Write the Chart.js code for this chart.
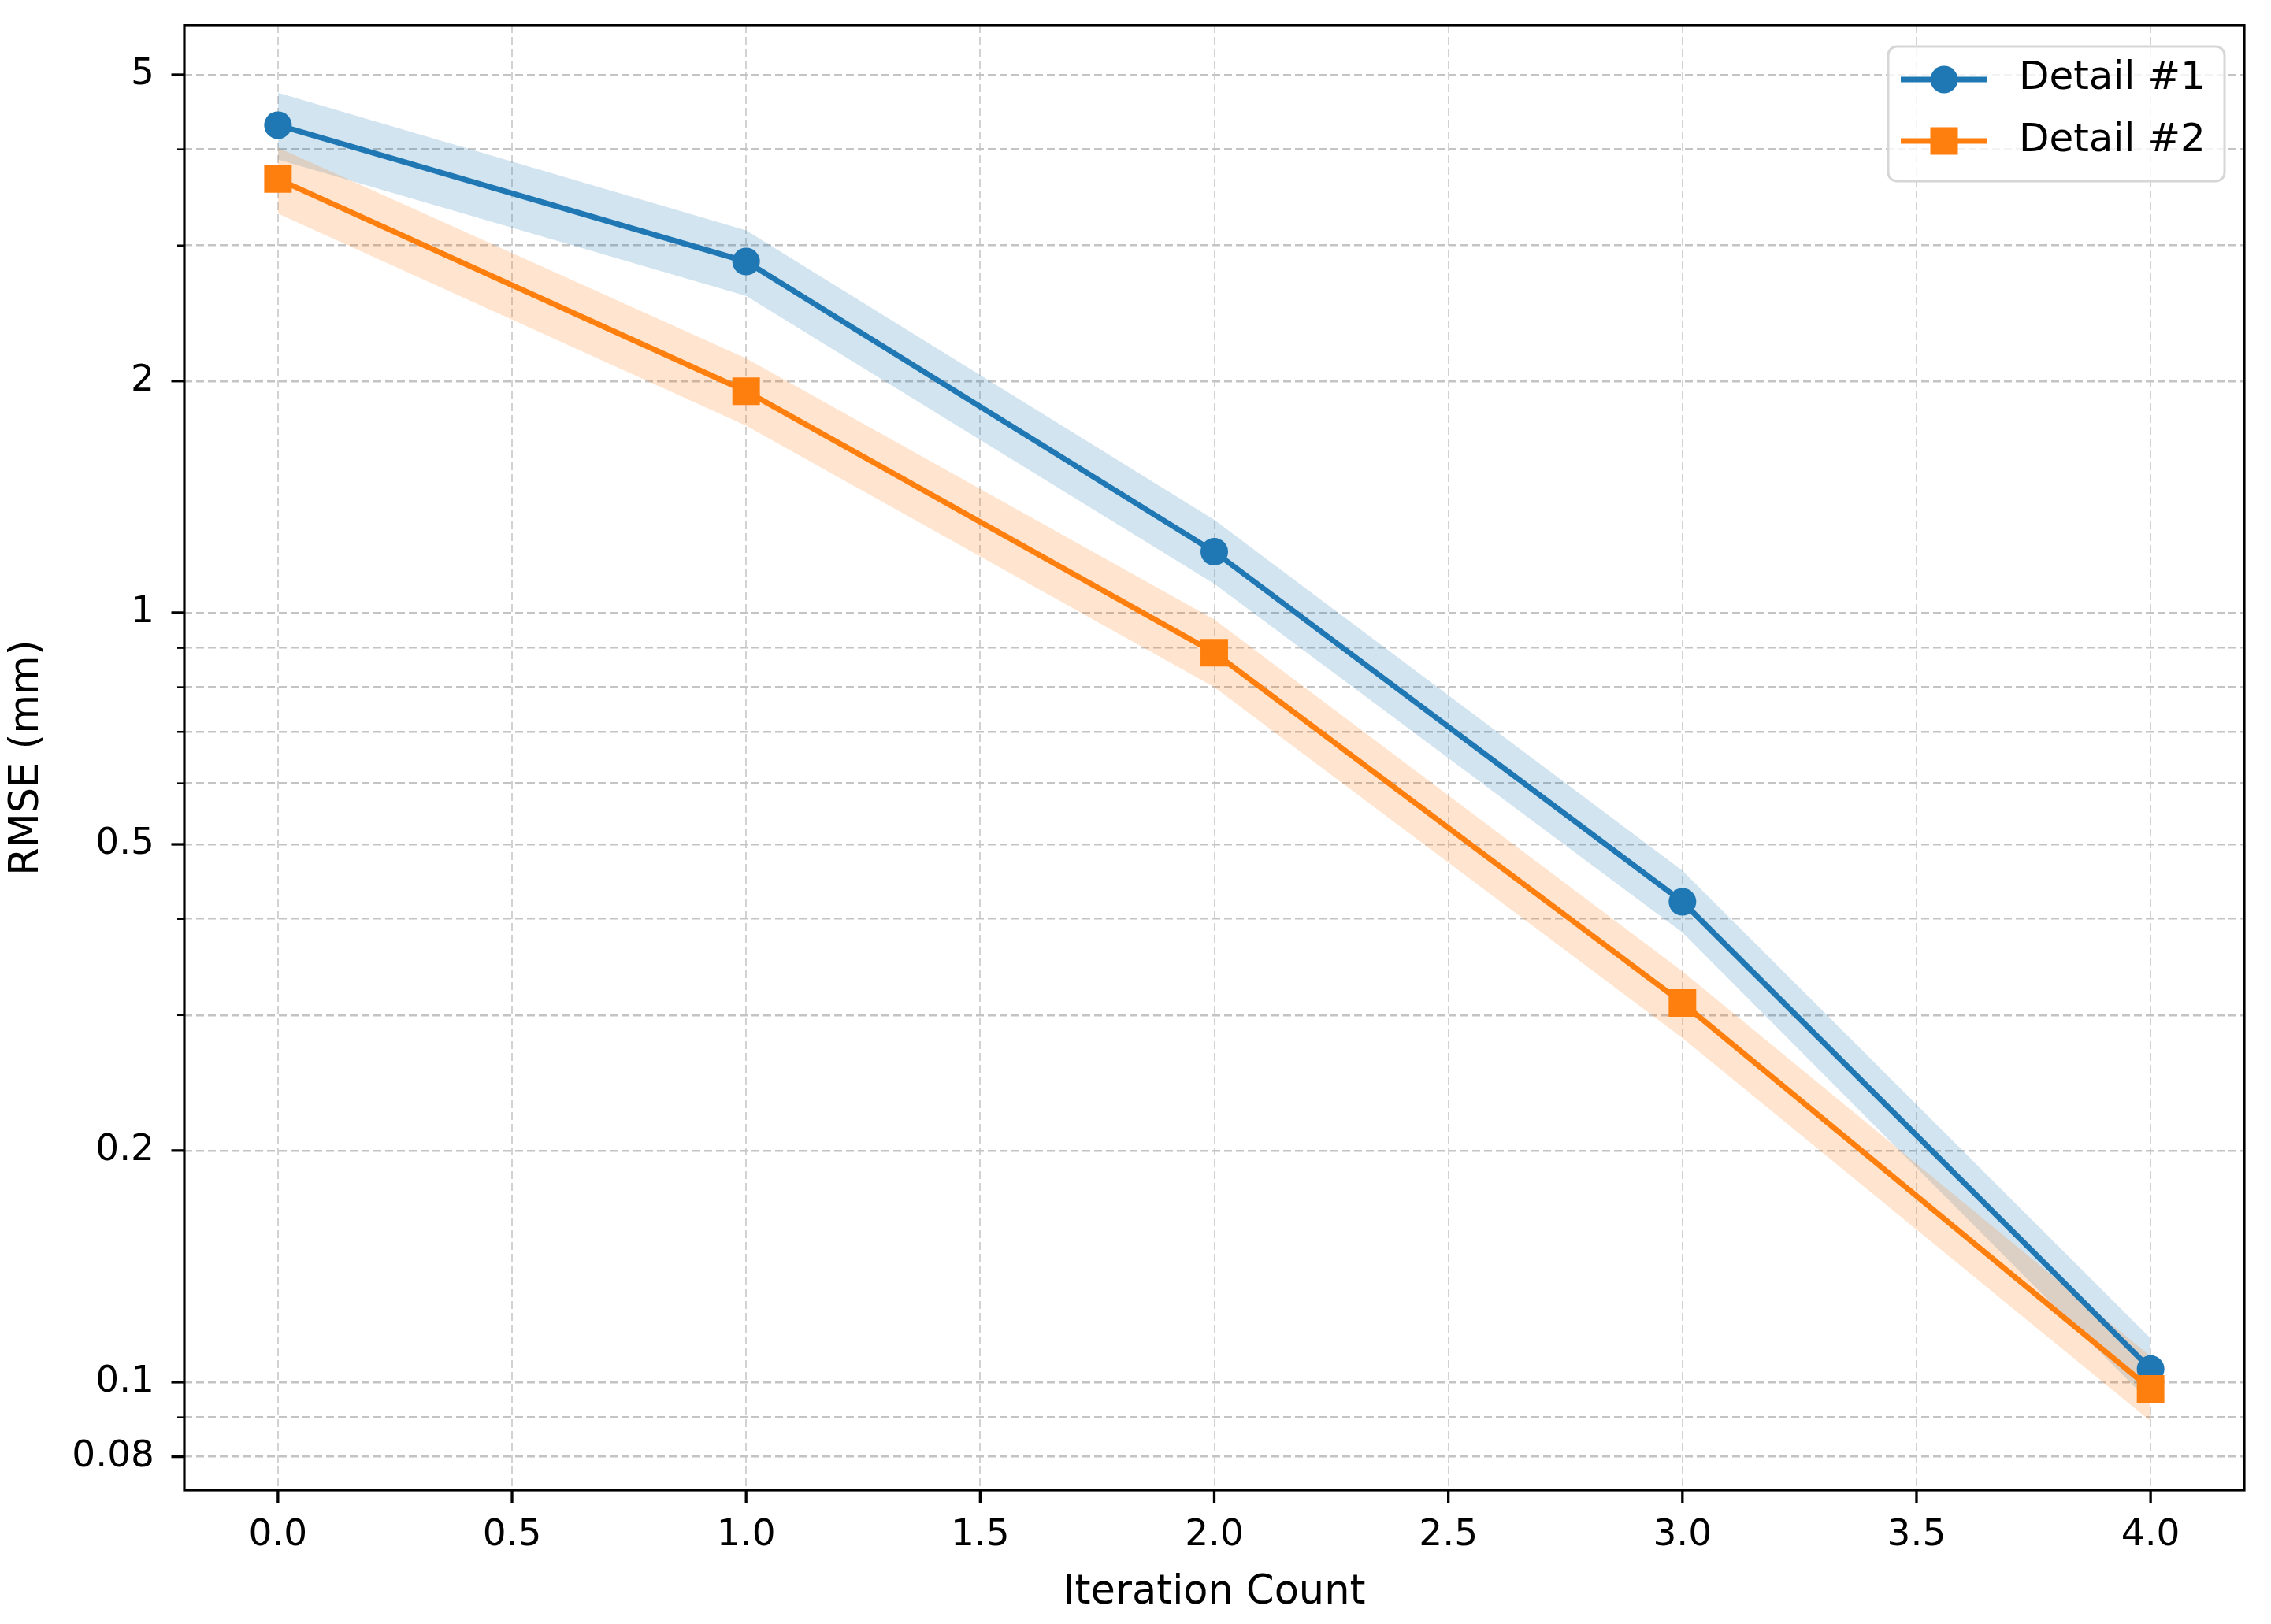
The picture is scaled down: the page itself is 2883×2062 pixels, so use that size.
<!DOCTYPE html>
<html>
<head>
<meta charset="utf-8">
<script src="https://cdn.jsdelivr.net/npm/chart.js@4.4.0/dist/chart.umd.min.js"></script>
<style>
html,body{margin:0;padding:0;background:#ffffff;}
canvas{display:block;}
</style>
</head>
<body>
<canvas id="c" width="2883" height="2062" style="width:2883px;height:2062px"></canvas>
<script>
// ---- data ----
const iterations = [0, 1, 2, 3, 4];
const detail1 = [4.30, 2.86, 1.20, 0.421, 0.104];
const detail1Upper = [4.74, 3.14, 1.32, 0.462, 0.114];
const detail1Lower = [3.88, 2.58, 1.09, 0.384, 0.094];
const detail2 = [3.66, 1.94, 0.887, 0.311, 0.098];
const detail2Upper = [4.02, 2.14, 0.98, 0.342, 0.108];
const detail2Lower = [3.30, 1.75, 0.80, 0.280, 0.089];

const xTickValues = [0, 0.5, 1, 1.5, 2, 2.5, 3, 3.5, 4];
const xTickLabels = ['0.0', '0.5', '1.0', '1.5', '2.0', '2.5', '3.0', '3.5', '4.0'];
const yTickValues = [0.08, 0.09, 0.1, 0.2, 0.3, 0.4, 0.5, 0.6, 0.7, 0.8, 0.9, 1, 2, 3, 4, 5];
const yMajorValues = [0.08, 0.1, 0.2, 0.5, 1, 2, 5];
const yMajorLabels = ['0.08', '0.1', '0.2', '0.5', '1', '2', '5'];
const seriesNames = ['Detail #1', 'Detail #2'];

const BLUE = '#1f77b4';
const ORANGE = '#ff7f0e';
const BLUE_BAND = 'rgba(31,119,180,0.2)';
const ORANGE_BAND = 'rgba(255,127,14,0.2)';
const FONT = '"DejaVu Sans", "Liberation Sans", sans-serif';

const pts = (ys) => iterations.map((x, i) => ({x: x, y: ys[i]}));
const findIdx = (arr, v) => arr.findIndex(a => Math.abs(a - v) < 1e-9);

Chart.defaults.font.family = FONT;
Chart.defaults.color = '#000000';

const decorPlugin = {
  id: 'decor',
  afterDraw(chart) {
    const ctx = chart.ctx;
    const area = chart.chartArea;
    const xs = chart.scales.x, ys = chart.scales.y;
    ctx.save();
    // tick marks
    ctx.strokeStyle = '#000000';
    ctx.setLineDash([]);
    yTickValues.forEach(v => {
      const py = ys.getPixelForValue(v);
      const major = findIdx(yMajorValues, v) >= 0;
      ctx.lineWidth = major ? 3.3 : 2.5;
      ctx.beginPath();
      ctx.moveTo(area.left - (major ? 16.5 : 9), py);
      ctx.lineTo(area.left, py);
      ctx.stroke();
    });
    xTickValues.forEach(v => {
      const px = xs.getPixelForValue(v);
      ctx.lineWidth = 3.3;
      ctx.beginPath();
      ctx.moveTo(px, area.bottom);
      ctx.lineTo(px, area.bottom + 17);
      ctx.stroke();
    });
    // frame
    ctx.lineWidth = 3.2;
    ctx.strokeRect(area.left, area.top, area.right - area.left, area.bottom - area.top);

    // legend
    const lx = 2397, ly = 59, lw = 427, lh = 171, r = 11;
    ctx.beginPath();
    ctx.moveTo(lx + r, ly);
    ctx.lineTo(lx + lw - r, ly);
    ctx.arcTo(lx + lw, ly, lx + lw, ly + r, r);
    ctx.lineTo(lx + lw, ly + lh - r);
    ctx.arcTo(lx + lw, ly + lh, lx + lw - r, ly + lh, r);
    ctx.lineTo(lx + r, ly + lh);
    ctx.arcTo(lx, ly + lh, lx, ly + lh - r, r);
    ctx.lineTo(lx, ly + r);
    ctx.arcTo(lx, ly, lx + r, ly, r);
    ctx.closePath();
    ctx.fillStyle = 'rgba(255,255,255,0.8)';
    ctx.fill();
    ctx.lineWidth = 3;
    ctx.strokeStyle = '#d6d6d6';
    ctx.stroke();

    const rows = [
      {y: 101, color: BLUE, shape: 'circle', text: seriesNames[0], ty: 100},
      {y: 179, color: ORANGE, shape: 'square', text: seriesNames[1], ty: 179}
    ];
    rows.forEach(row => {
      ctx.strokeStyle = row.color;
      ctx.lineWidth = 7;
      ctx.beginPath();
      ctx.moveTo(2413, row.y);
      ctx.lineTo(2522, row.y);
      ctx.stroke();
      ctx.fillStyle = row.color;
      if (row.shape === 'circle') {
        ctx.beginPath();
        ctx.arc(2468, row.y, 17.5, 0, Math.PI * 2);
        ctx.fill();
      } else {
        ctx.fillRect(2468 - 17.5, row.y - 17.5, 35, 35);
      }
      ctx.fillStyle = '#000000';
      ctx.font = '50px ' + FONT;
      ctx.textAlign = 'left';
      ctx.textBaseline = 'middle';
      ctx.fillText(row.text, 2563, row.ty);
    });
    ctx.restore();
  }
};

new Chart(document.getElementById('c').getContext('2d'), {
  type: 'line',
  data: {
    datasets: [
      {label: seriesNames[1], data: pts(detail2), borderColor: ORANGE, backgroundColor: ORANGE,
       borderWidth: 7, pointStyle: 'rect', pointRadius: 24.7, pointBorderWidth: 0,
       pointBackgroundColor: ORANGE, fill: false, tension: 0, order: 0},
      {label: seriesNames[0], data: pts(detail1), borderColor: BLUE, backgroundColor: BLUE,
       borderWidth: 7, pointStyle: 'circle', pointRadius: 17.5, pointBorderWidth: 0,
       pointBackgroundColor: BLUE, fill: false, tension: 0, order: 1},
      {label: 'band2u', data: pts(detail2Upper), borderColor: 'rgba(0,0,0,0)', borderWidth: 0,
       pointRadius: 0, fill: '+1', backgroundColor: ORANGE_BAND, tension: 0, order: 2},
      {label: 'band2l', data: pts(detail2Lower), borderColor: 'rgba(0,0,0,0)', borderWidth: 0,
       pointRadius: 0, fill: false, tension: 0, order: 3},
      {label: 'band1u', data: pts(detail1Upper), borderColor: 'rgba(0,0,0,0)', borderWidth: 0,
       pointRadius: 0, fill: '+1', backgroundColor: BLUE_BAND, tension: 0, order: 4},
      {label: 'band1l', data: pts(detail1Lower), borderColor: 'rgba(0,0,0,0)', borderWidth: 0,
       pointRadius: 0, fill: false, tension: 0, order: 5}
    ]
  },
  options: {
    responsive: false,
    maintainAspectRatio: false,
    devicePixelRatio: 1,
    animation: false,
    events: [],
    layout: {padding: {top: 32, right: 34, left: 0, bottom: 0}},
    plugins: {legend: {display: false}, tooltip: {enabled: false}},
    scales: {
      x: {
        type: 'linear',
        position: 'bottom',
        min: -0.2,
        max: 4.2,
        bounds: 'data',
        afterBuildTicks: (s) => { s.ticks = xTickValues.map(v => ({value: v})); },
        afterFit: (s) => { s.height = 170; s.paddingLeft = 0; s.paddingRight = 0; s.paddingTop = 0; s.paddingBottom = 0; },
        ticks: {
          autoSkip: false, maxRotation: 0, minRotation: 0, padding: 30,
          font: {size: 47, family: FONT}, color: '#000000',
          callback: (v) => { const i = findIdx(xTickValues, v); return i >= 0 ? xTickLabels[i] : ''; }
        },
        grid: {color: '#d2d2d2', lineWidth: 2, drawTicks: false, borderDash: [10, 5]},
        border: {display: false, dash: [10, 5]},
        title: {display: true, text: 'Iteration Count', font: {size: 51, family: FONT}, color: '#000000',
                padding: {top: 0, bottom: 9}}
      },
      y: {
        type: 'logarithmic',
        position: 'left',
        min: 0.0724,
        max: 5.80,
        bounds: 'data',
        afterBuildTicks: (s) => { s.ticks = yTickValues.map(v => ({value: v, major: findIdx(yMajorValues, v) >= 0})); },
        afterFit: (s) => { s.width = 234; s.paddingLeft = 0; s.paddingRight = 0; s.paddingTop = 0; s.paddingBottom = 0; },
        ticks: {
          autoSkip: false, padding: 38,
          font: {size: 47, family: FONT}, color: '#000000',
          callback: (v) => { const i = findIdx(yMajorValues, v); return i >= 0 ? yMajorLabels[i] : ''; }
        },
        grid: {color: '#c4c4c4', lineWidth: 2.5, drawTicks: false, borderDash: [10, 5]},
        border: {display: false, dash: [10, 5]},
        title: {display: true, text: 'RMSE (mm)', font: {size: 51, family: FONT}, color: '#000000',
                padding: {top: 4, bottom: 0}}
      }
    }
  },
  plugins: [decorPlugin]
});
</script>
</body>
</html>
